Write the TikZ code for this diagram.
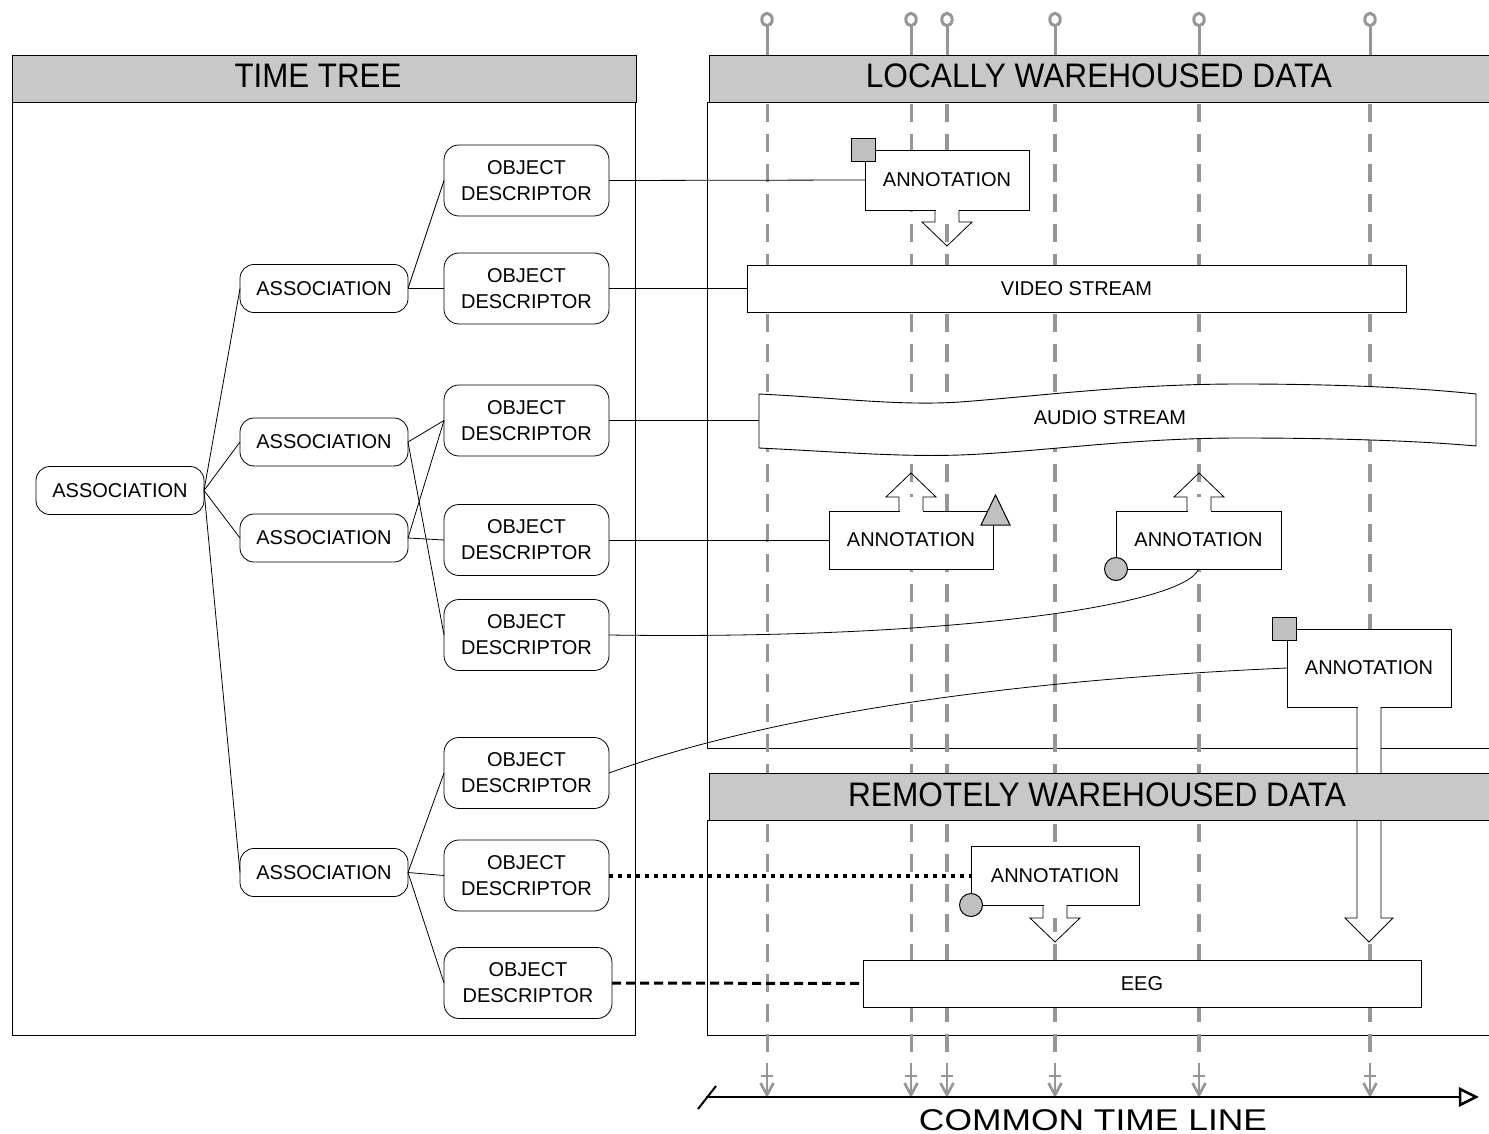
\documentclass[tikz,border=0pt]{standalone}
\usepackage{fontspec}
\setmainfont{Liberation Sans}
\usepackage{graphicx}
\usetikzlibrary{calc}
\definecolor{hdr}{RGB}{200,200,200}
\definecolor{tlc}{RGB}{150,150,150}
\definecolor{mkc}{RGB}{192,192,192}
\begin{document}
\begin{tikzpicture}[x=1pt,y=-1pt,
  every node/.style={inner sep=0pt, outer sep=0pt},
  lbl/.style={font=\fontsize{20}{26}\selectfont},
  bigl/.style={font=\fontsize{34}{40}\selectfont},
  hdrbox/.style={draw, fill=hdr, line width=0.9pt},
  frm/.style={draw, line width=0.9pt},
  assoc/.style={draw, fill=white, line width=0.8pt, rounded corners=14pt, minimum width=168pt, minimum height=48pt, lbl},
  od/.style={draw, fill=white, line width=0.8pt, rounded corners=15pt, minimum width=165pt, minimum height=71pt, lbl, align=center},
  ann/.style={draw, fill=white, line width=0.9pt, minimum width=164pt, lbl},
  strm/.style={draw, fill=white, line width=0.9pt, lbl},
  tline/.style={color=tlc, dash pattern=on 18pt off 12pt},
  edge/.style={line width=0.8pt},
  harrow/.style={draw, line width=0.8pt, line join=miter},
  gmk/.style={draw, fill=mkc, line width=1pt},
]
\useasboundingbox (0,0) rectangle (1489,1134);
\fill[white] (0,0) rectangle (1489,1134);
\clip (0,0) rectangle (1489,1134);

% ---------- frames ----------
\draw[frm] (12,102) rectangle (635,1035);
\draw[frm] (707,102) rectangle (1500,748);
\draw[frm] (707,820) rectangle (1500,1035);

% ---------- gray time lines ----------
\foreach \x/\w in {767/3, 911/3, 947/4, 1055/4, 1199/4, 1370/3.5}{
  \draw[tline, line width=\w pt] (\x,104) -- (\x,1052);
  \draw[tlc, line width=3pt] (\x,27) -- (\x,55);
  \draw[tlc, line width=3pt, fill=white] (\x,19.5) ellipse[x radius=5.2, y radius=6.2];
  \draw[tlc, line width=2.8pt] (\x,1063) -- (\x,1095);
  \draw[tlc, line width=2.4pt] (\x-6,1076) -- (\x+6,1076);
  \draw[tlc, line width=2.6pt] (\x-6.5,1083) -- (\x,1095) -- (\x+6.5,1083);
}

% ---------- headers ----------
\draw[hdrbox] (12,55) rectangle (636,102);
\node[bigl] (tthead) at (318,76) {\scalebox{0.92}[1]{TIME TREE}};
\draw[hdrbox] (709,55) rectangle (1500,102);
\node[bigl] (lochead) at (1099,76) {\scalebox{0.93}[1]{LOCALLY WAREHOUSED DATA}};

% ---------- time tree ----------
\node[assoc] (root) at (120,490.5) {ASSOCIATION};
\node[assoc] (a1) at (324,288.5) {ASSOCIATION};
\node[assoc] (a2) at (324,442) {ASSOCIATION};
\node[assoc] (a3) at (324,538) {ASSOCIATION};
\node[assoc] (a4) at (324,872.5) {ASSOCIATION};

\node[od] (od1) at (526.5,180.5) {OBJECT\\DESCRIPTOR};
\node[od] (od2) at (526.5,288.5) {OBJECT\\DESCRIPTOR};
\node[od] (od3) at (526.5,420.5) {OBJECT\\DESCRIPTOR};
\node[od] (od4) at (526.5,540) {OBJECT\\DESCRIPTOR};
\node[od] (od5) at (526.5,635) {OBJECT\\DESCRIPTOR};
\node[od] (od6) at (526.5,773) {OBJECT\\DESCRIPTOR};
\node[od] (od7) at (526.5,875.5) {OBJECT\\DESCRIPTOR};
\node[od, minimum width=168pt] (od8) at (528,983) {OBJECT\\DESCRIPTOR};

\foreach \t in {a1,a2,a3,a4} \draw[edge] (root.east) -- (\t.west);
\draw[edge] (a1.east) -- (od1.west);
\draw[edge] (a1.east) -- (od2.west);
\draw[edge] (a2.east) -- (od3.west);
\draw[edge] (a2.east) -- (od5.west);
\draw[edge] (a3.east) -- (od3.west);
\draw[edge] (a3.east) -- (od4.west);
\draw[edge] (a4.east) -- (od6.west);
\draw[edge] (a4.east) -- (od7.west);
\draw[edge] (a4.east) -- (od8.west);

% ---------- streams ----------
\node[strm, minimum width=659pt, minimum height=47pt] (video) at (1076.5,288.5) {VIDEO STREAM};
\draw[line width=0.9pt, fill=white]
  (759,394) .. controls (840,398) and (900,406) .. (960,402)
  .. controls (1040,396) and (1130,384) .. (1240,384)
  .. controls (1340,384) and (1420,388) .. (1476,394)
  -- (1476,446)
  .. controls (1420,441) and (1340,438) .. (1240,438)
  .. controls (1130,438) and (1040,452) .. (960,455)
  .. controls (900,457) and (840,452) .. (759,448) -- cycle;
\node[lbl] (audio) at (1110,418) {AUDIO STREAM};
\coordinate (audioin) at (759,420.5);
\node[strm, minimum width=558pt, minimum height=47pt] (eeg) at (1142,983.5) {EEG};

% ---------- annotations ----------
\node[ann, minimum height=60pt] (ann1) at (947,180) {ANNOTATION};
\node[ann, minimum height=58pt] (ann2) at (911,540) {ANNOTATION};
\node[ann, minimum height=58pt, minimum width=165pt] (ann3) at (1198.5,540) {ANNOTATION};
\node[ann, minimum height=78pt] (ann4) at (1369,668) {ANNOTATION};
\node[ann, minimum height=59pt, minimum width=168pt] (ann5) at (1055,875.5) {ANNOTATION};

% hollow arrows
\fill[white] (935.5,209) rectangle (958.5,222);
\draw[harrow] (935,210) -- (935,222) -- (922,222) -- (947,246) -- (972,222) -- (959,222) -- (959,210);
\fill[white] (899.5,512) rectangle (922.5,497);
\draw[harrow] (899,511) -- (899,497) -- (886,497) -- (911,473) -- (936,497) -- (923,497) -- (923,511);
\fill[white] (1187.5,512) rectangle (1210.5,497);
\draw[harrow] (1187,511) -- (1187,497) -- (1174,497) -- (1199,473) -- (1224,497) -- (1211,497) -- (1211,511);
\fill[white] (1043.5,904) rectangle (1066.5,918);
\draw[harrow] (1043,905) -- (1043,918) -- (1030,918) -- (1055,942) -- (1080,918) -- (1067,918) -- (1067,905);
\fill[white] (1357.5,706) rectangle (1380.5,918);
\fill[white] (1357,918) -- (1345,918) -- (1369,942) -- (1393,918) -- (1381,918) -- cycle;
\draw[harrow] (1357,707) -- (1357,918) -- (1345,918) -- (1369,942) -- (1393,918) -- (1381,918) -- (1381,707);

% remote header (over the long arrow)
\draw[hdrbox] (709,773) rectangle (1500,820);
\node[bigl] (remhead) at (1097,795) {\scalebox{0.93}[1]{REMOTELY WAREHOUSED DATA}};

% ---------- connectors ----------
\draw[edge] (od1.east) -- (ann1.west);
\draw[edge] (od2.east) -- (video.west);
\draw[edge] (od3.east) -- (audioin);
\draw[edge] (od4.east) -- (ann2.west);
\draw[edge] (od5.east) .. controls (950,640) and (1185,605) .. (ann3.south);
\draw[edge] (od6.east) .. controls (700,740) and (900,685) .. (ann4.west);
\draw[line width=4pt, dash pattern=on 4pt off 5pt] (od7.east) -- (ann5.west);
\draw[line width=3pt, dash pattern=on 9pt off 5pt] (od8.east) -- (eeg.west);

% ---------- corner markers ----------
\draw[gmk] (851,139) rectangle (875,162);
\draw[gmk] (1272,617) rectangle (1296,640);
\draw[gmk, line join=miter] (981,525) -- (1010,525) -- (995.5,495) -- cycle;
\draw[gmk] (1116,569) circle[radius=11.5];
\draw[gmk] (971,905) circle[radius=11.5];

% ---------- common time line ----------
\draw[line width=2.5pt] (706,1097) -- (1462,1097);
\draw[line width=2.5pt, fill=white, line join=miter] (1460,1089) -- (1476,1097) -- (1460,1105) -- cycle;
\draw[line width=2pt] (698,1109) -- (716,1086);
\node[font=\fontsize{30}{34}\selectfont] (ctl) at (1093,1120) {\scalebox{1.18}[1]{COMMON TIME LINE}};
\end{tikzpicture}
\end{document}
